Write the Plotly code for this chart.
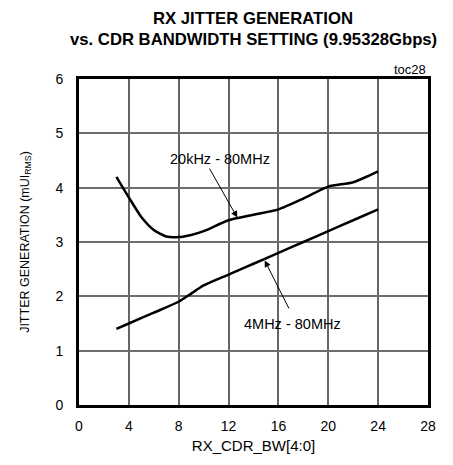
import plotly.graph_objects as go

x_upper = [3, 4, 5, 6, 7, 8, 9, 10, 12, 14, 16, 18, 20, 22, 24]
y_upper = [4.2, 3.82, 3.46, 3.22, 3.1, 3.09, 3.13, 3.2, 3.4, 3.5, 3.6, 3.8, 4.02, 4.1, 4.3]

x_lower = [3, 4, 6, 8, 9, 10, 12, 14, 16, 18, 20, 22, 24]
y_lower = [1.4, 1.5, 1.7, 1.9, 2.05, 2.2, 2.4, 2.6, 2.8, 3.0, 3.2, 3.4, 3.6]

x_ticks = [0, 4, 8, 12, 16, 20, 24, 28]
y_ticks = [0, 1, 2, 3, 4, 5, 6]

FONT = "Liberation Sans, Arial, sans-serif"

fig = go.Figure()
fig.add_trace(go.Scatter(x=x_upper, y=y_upper, mode="lines",
                         line=dict(color="black", width=2.5, shape="spline", smoothing=0.6),
                         showlegend=False, hoverinfo="skip"))
fig.add_trace(go.Scatter(x=x_lower, y=y_lower, mode="lines",
                         line=dict(color="black", width=2.5, shape="spline", smoothing=0.6),
                         showlegend=False, hoverinfo="skip"))

fig.update_layout(
    width=453, height=465,
    margin=dict(l=79, r=25, t=79, b=60),
    paper_bgcolor="white", plot_bgcolor="white",
    font=dict(family=FONT, color="black", size=14),
    xaxis=dict(
        range=[0, 28], tickvals=x_ticks, ticktext=[str(v) for v in x_ticks],
        showgrid=True, gridcolor="#666666", gridwidth=2,
        showline=True, linecolor="black", linewidth=3, mirror=True,
        zeroline=False, ticks="outside", ticklen=6, tickcolor="white",
        title=dict(text="RX_CDR_BW[4:0]", standoff=8, font=dict(size=15)),
        tickfont=dict(size=14),
    ),
    yaxis=dict(
        range=[0, 6], tickvals=y_ticks, ticktext=[str(v) for v in y_ticks],
        showgrid=True, gridcolor="#6e6e6e", gridwidth=2,
        showline=True, linecolor="black", linewidth=3, mirror=True,
        zeroline=False, ticks="outside", ticklen=10, tickcolor="white",
        title=dict(text="JITTER GENERATION (mUI<sub>RMS</sub>)", standoff=24, font=dict(size=12.5)),
        tickfont=dict(size=14),
    ),
)

fig.add_annotation(x=0.4986, y=1.187, xref="paper", yref="paper", showarrow=False,
                   yanchor="middle", text="<b>RX JITTER GENERATION</b>", font=dict(size=16.7))
fig.add_annotation(x=0.4986, y=1.12, xref="paper", yref="paper", showarrow=False,
                   yanchor="middle", text="<b>vs. CDR BANDWIDTH SETTING (9.95328Gbps)</b>",
                   font=dict(size=16.7))

fig.add_annotation(x=12.7, y=3.45, ax=10.4, ay=4.38, xref="x", yref="y",
                   axref="x", ayref="y", showarrow=True, arrowhead=2,
                   arrowsize=1.3, arrowwidth=1, arrowcolor="black", text="")
fig.add_annotation(x=11.3, y=4.52, xref="x", yref="y", showarrow=False,
                   text="20kHz - 80MHz", font=dict(size=14.5))

fig.add_annotation(x=14.9, y=2.66, ax=16.9, ay=1.75, xref="x", yref="y",
                   axref="x", ayref="y", showarrow=True, arrowhead=2,
                   arrowsize=1.3, arrowwidth=1, arrowcolor="black", text="")
fig.add_annotation(x=17.1, y=1.5, xref="x", yref="y", showarrow=False,
                   text="4MHz - 80MHz", font=dict(size=14.5))

fig.add_annotation(x=1, y=1, xref="paper", yref="paper", xanchor="right",
                   yanchor="bottom", showarrow=False, text="toc28",
                   font=dict(size=13), yshift=0)

fig.write_html("out.html")
